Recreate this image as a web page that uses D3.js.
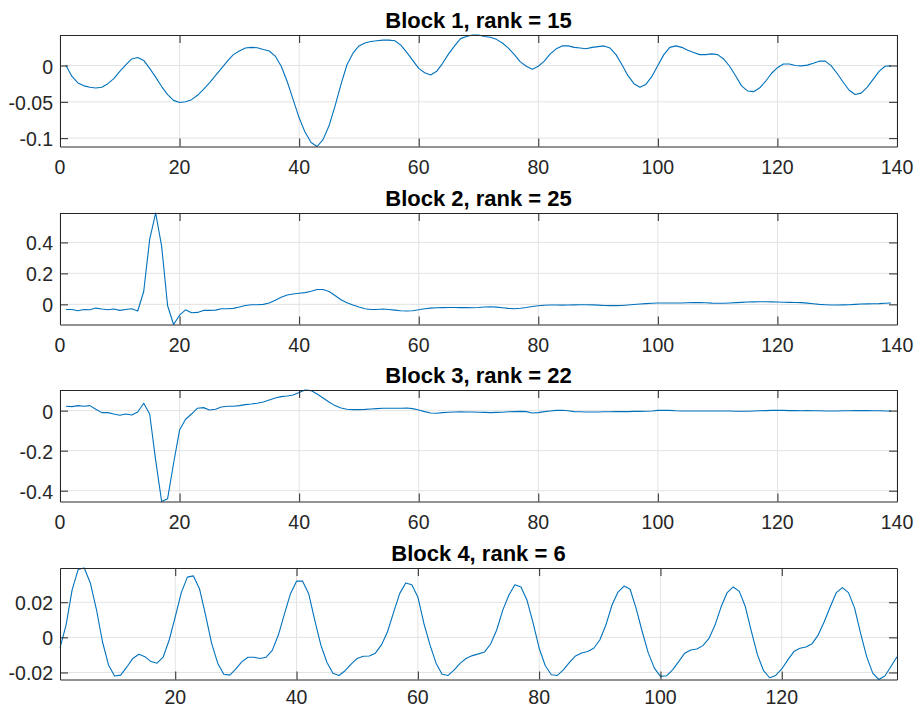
<!DOCTYPE html>
<html>
<head>
<meta charset="utf-8">
<script src="https://cdn.jsdelivr.net/npm/d3@7"></script>
<style>
  body { margin: 0; background: #fff; }
  text { font-family: "Liberation Sans", Arial, Helvetica, sans-serif; }
</style>
</head>
<body>
<div id="chart"></div>
<script>
// titles of the four blocks
let titles = ["Block 1, rank = 15", "Block 2, rank = 25", "Block 3, rank = 22", "Block 4, rank = 6"];

// sample index 1..139 (same for all blocks)
let block1 = [
    0, -0.015, -0.024, -0.028, -0.030, -0.031, -0.030, -0.025, -0.018, -0.008,
    0.001, 0.009, 0.011, 0.007, -0.004, -0.016, -0.029, -0.040, -0.048, -0.051,
    -0.050, -0.047, -0.041, -0.033, -0.024, -0.014, -0.004, 0.006, 0.015, 0.020,
    0.024, 0.025, 0.0245, 0.022, 0.020, 0.013, -0.001, -0.022, -0.047, -0.072,
    -0.092, -0.106, -0.1115, -0.102, -0.083, -0.056, -0.026, 0.001, 0.017, 0.027,
    0.031, 0.033, 0.034, 0.035, 0.035, 0.034, 0.028, 0.018, 0.007, -0.004,
    -0.010, -0.013, -0.008, 0.003, 0.016, 0.027, 0.037, 0.040, 0.042, 0.042,
    0.040, 0.039, 0.036, 0.031, 0.024, 0.015, 0.005, -0.001, -0.005, -0.001,
    0.006, 0.016, 0.023, 0.027, 0.027, 0.025, 0.024, 0.023, 0.025, 0.026,
    0.027, 0.024, 0.015, 0.001, -0.014, -0.025, -0.030, -0.026, -0.015, 0.000,
    0.015, 0.025, 0.027, 0.025, 0.021, 0.018, 0.015, 0.015, 0.016, 0.015,
    0.009, -0.001, -0.014, -0.028, -0.035, -0.036, -0.031, -0.022, -0.011, -0.003,
    0.002, 0.002, 0.000, -0.0005, 0.0005, 0.003, 0.006, 0.006, -0.0005, -0.011,
    -0.023, -0.034, -0.040, -0.038, -0.030, -0.019, -0.008, -0.001, -0.0005
];

let block2 = [
    -0.033, -0.033, -0.041, -0.033, -0.035, -0.024, -0.030, -0.035, -0.030, -0.039,
    -0.033, -0.028, -0.043, 0.083, 0.42, 0.59, 0.376, -0.009, -0.13, -0.070,
    -0.035, -0.054, -0.052, -0.039, -0.039, -0.037, -0.028, -0.028, -0.026, -0.017,
    -0.007, -0.002, -0.002, 0, 0.009, 0.026, 0.046, 0.061, 0.067, 0.072,
    0.076, 0.085, 0.096, 0.096, 0.083, 0.057, 0.030, 0.011, -0.004, -0.017,
    -0.028, -0.033, -0.033, -0.030, -0.033, -0.037, -0.041, -0.043, -0.041, -0.035,
    -0.028, -0.024, -0.022, -0.021, -0.020, -0.020, -0.021, -0.021, -0.022, -0.020,
    -0.017, -0.015, -0.018, -0.022, -0.026, -0.028, -0.025, -0.020, -0.014, -0.009,
    -0.006, -0.004, -0.004, -0.005, -0.004, -0.003, -0.002, -0.002, -0.003, -0.005,
    -0.007, -0.008, -0.008, -0.007, -0.004, -0.001, 0.002, 0.005, 0.007, 0.009,
    0.009, 0.009, 0.009, 0.009, 0.010, 0.011, 0.011, 0.010, 0.008, 0.007,
    0.007, 0.009, 0.011, 0.013, 0.015, 0.016, 0.017, 0.017, 0.016, 0.015,
    0.014, 0.013, 0.012, 0.011, 0.008, 0.004, 0.000, -0.002, -0.004, -0.004,
    -0.003, -0.002, 0.000, 0.002, 0.003, 0.004, 0.005, 0.007, 0.009
];

let block3 = [
    0.022, 0.020, 0.025, 0.022, 0.025, 0.007, -0.010, -0.010, -0.017, -0.023,
    -0.017, -0.022, -0.007, 0.037, -0.017, -0.247, -0.454, -0.44, -0.263, -0.097,
    -0.043, -0.017, 0.012, 0.015, 0.003, 0.007, 0.018, 0.022, 0.022, 0.025,
    0.030, 0.033, 0.037, 0.043, 0.053, 0.063, 0.070, 0.073, 0.078, 0.090,
    0.103, 0.100, 0.083, 0.063, 0.043, 0.025, 0.013, 0.007, 0.005, 0.005,
    0.006, 0.008, 0.010, 0.012, 0.012, 0.012, 0.012, 0.013, 0.010, 0.003,
    -0.005, -0.012, -0.013, -0.010, -0.008, -0.007, -0.006, -0.007, -0.007, -0.008,
    -0.009, -0.010, -0.009, -0.008, -0.006, -0.005, -0.004, -0.005, -0.012, -0.010,
    -0.005, -0.002, 0.001, 0.002, -0.001, -0.005, -0.006, -0.007, -0.007, -0.007,
    -0.006, -0.006, -0.005, -0.005, -0.005, -0.004, -0.004, -0.003, -0.002, 0.001,
    0.002, 0.001, -0.001, -0.002, -0.002, -0.002, -0.002, -0.002, -0.002, -0.002,
    -0.002, -0.002, -0.003, -0.003, -0.003, -0.002, -0.001, 0.000, 0.001, 0.002,
    0.001, 0.000, 0.000, -0.001, 0.000, -0.001, -0.001, -0.002, -0.002, -0.002,
    -0.001, -0.001, 0.000, 0.000, 0.000, -0.001, -0.001, -0.002, -0.002
];

let block4 = [
    -0.006, 0.007, 0.027, 0.0387, 0.0395, 0.031, 0.016, -0.0025, -0.0157, -0.022,
    -0.0215, -0.017, -0.012, -0.0096, -0.011, -0.0138, -0.0147, -0.0113, -0.0015, 0.0117,
    0.0255, 0.0343, 0.035, 0.0277, 0.0126, -0.0034, -0.0147, -0.021, -0.0215, -0.018,
    -0.0138, -0.0113, -0.0113, -0.012, -0.0113, -0.0074, 0.0013, 0.0132, 0.0249, 0.032,
    0.032, 0.0249, 0.0098, -0.0043, -0.0142, -0.0204, -0.0217, -0.019, -0.0153, -0.012,
    -0.0108, -0.0106, -0.009, -0.0043, 0.0032, 0.0142, 0.0249, 0.031, 0.030, 0.023,
    0.0079, -0.0043, -0.0147, -0.021, -0.0217, -0.0185, -0.0147, -0.0119, -0.0104, -0.0094,
    -0.0083, -0.0038, 0.0042, 0.0155, 0.024, 0.030, 0.0287, 0.0211, 0.0083, -0.0062,
    -0.016, -0.0213, -0.0217, -0.0185, -0.0143, -0.0106, -0.0089, -0.0081, -0.0062, -0.0015,
    0.007, 0.0183, 0.0258, 0.0292, 0.0274, 0.0164, 0.0032, -0.009, -0.0175, -0.0222,
    -0.0219, -0.0185, -0.0138, -0.009, -0.0072, -0.0066, -0.0047, -0.0006, 0.007, 0.0174,
    0.0255, 0.0287, 0.0262, 0.0174, 0.0032, -0.010, -0.019, -0.0230, -0.0217, -0.018,
    -0.0128, -0.0081, -0.0062, -0.0055, -0.0036, 0.0013, 0.0089, 0.0174, 0.0255, 0.0283,
    0.0255, 0.0168, 0.0023, -0.011, -0.0204, -0.024, -0.022, -0.0166, -0.011
];

// axis limits and tick values per block
let xDomains = [[0, 140], [0, 140], [0, 140], [1, 139]];
let xTickValues = [
    [0, 20, 40, 60, 80, 100, 120, 140],
    [0, 20, 40, 60, 80, 100, 120, 140],
    [0, 20, 40, 60, 80, 100, 120, 140],
    [20, 40, 60, 80, 100, 120]
];
let yTickValues = [[-0.1, -0.05, 0], [0, 0.2, 0.4], [-0.4, -0.2, 0], [-0.02, 0, 0.02]];
let yTickLabels = [["-0.1", "-0.05", "0"], ["0", "0.2", "0.4"], ["-0.4", "-0.2", "0"], ["-0.02", "0", "0.02"]];

let blocks = [block1, block2, block3, block4];

let width = 917, height = 708;
let left = 60, right = 897;
let tops = [35, 213, 390, 568];
let plotH = 111.5;
let tickLen = 8;
let lineColor = "#0072bd";
let axisColor = "#262626";
let gridColor = "#e3e3e3";

let svg = d3.select("#chart").append("svg")
    .attr("width", width)
    .attr("height", height);

function drawBlock(i) {
    let data = blocks[i].map(function(v, k) { return {x: k + 1, y: v}; });
    let top = tops[i];

    let x = d3.scaleLinear().domain(xDomains[i]).range([left, right]);
    let y = d3.scaleLinear().domain(d3.extent(blocks[i])).range([top + plotH, top]);

    let g = svg.append("g");

    // grid
    g.append("g")
        .selectAll("line")
        .data(xTickValues[i])
        .enter().append("line")
        .attr("x1", function(d) { return x(d); })
        .attr("x2", function(d) { return x(d); })
        .attr("y1", top)
        .attr("y2", top + plotH)
        .style("stroke", gridColor)
        .style("stroke-width", "1px");

    g.append("g")
        .selectAll("line")
        .data(yTickValues[i])
        .enter().append("line")
        .attr("x1", left)
        .attr("x2", right)
        .attr("y1", function(d) { return y(d); })
        .attr("y2", function(d) { return y(d); })
        .style("stroke", gridColor)
        .style("stroke-width", "1px");

    // data line
    let line = d3.line()
        .x(function(d) { return x(d.x); })
        .y(function(d) { return y(d.y); });

    g.append("path")
        .datum(data)
        .attr("d", line)
        .style("fill", "none")
        .style("stroke", lineColor)
        .style("stroke-width", "1.1px")
        .style("stroke-linejoin", "round");

    // axes: ticks point inwards, box drawn on all sides
    let xb = d3.axisBottom(x).tickValues(xTickValues[i]).tickSizeInner(-tickLen).tickSizeOuter(0).tickFormat("");
    let xt = d3.axisTop(x).tickValues(xTickValues[i]).tickSizeInner(-tickLen).tickSizeOuter(0).tickFormat("");
    let yl = d3.axisLeft(y).tickValues(yTickValues[i]).tickSizeInner(-tickLen).tickSizeOuter(0).tickFormat("");
    let yr = d3.axisRight(y).tickValues(yTickValues[i]).tickSizeInner(-tickLen).tickSizeOuter(0).tickFormat("");

    let axes = [
        [xb, "translate(0," + (top + plotH) + ")"],
        [xt, "translate(0," + top + ")"],
        [yl, "translate(" + left + ",0)"],
        [yr, "translate(" + right + ",0)"]
    ];
    axes.forEach(function(a) {
        let ag = g.append("g").attr("transform", a[1]).call(a[0]);
        ag.selectAll("path, line").style("stroke", axisColor).style("stroke-width", "1px");
    });

    // tick labels (last row pulled up a little so it stays inside the page)
    let labelGap = (i == blocks.length - 1) ? 24 : 27;
    g.append("g")
        .selectAll("text")
        .data(xTickValues[i])
        .enter().append("text")
        .attr("x", function(d) { return x(d); })
        .attr("y", top + plotH + labelGap)
        .attr("text-anchor", "middle")
        .style("font-size", "19.5px")
        .style("fill", axisColor)
        .text(function(d) { return d; });

    g.append("g")
        .selectAll("text")
        .data(yTickValues[i])
        .enter().append("text")
        .attr("x", left - 7)
        .attr("y", function(d) { return y(d) + 8; })
        .attr("text-anchor", "end")
        .style("font-size", "19.5px")
        .style("fill", axisColor)
        .text(function(d, k) { return yTickLabels[i][k]; });

    // title
    g.append("text")
        .attr("x", (left + right) / 2)
        .attr("y", top - 7.5)
        .attr("text-anchor", "middle")
        .style("font-size", "22px")
        .style("font-weight", "bold")
        .style("fill", "#000")
        .text(titles[i]);
}

for (let i = 0; i < blocks.length; i++) {
    drawBlock(i);
}
</script>
</body>
</html>
